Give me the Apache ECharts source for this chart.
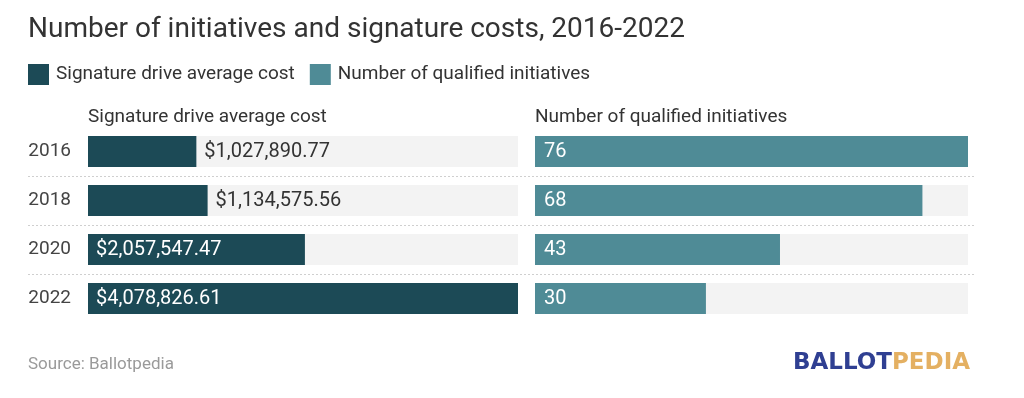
<!DOCTYPE html>
<html>
<head>
<meta charset="utf-8">
<script src="https://cdn.jsdelivr.net/npm/echarts@6/dist/echarts.min.js"></script>
<style>
  html, body { margin: 0; padding: 0; background: #fff; }
  #chart { width: 1024px; height: 398px; }
</style>
</head>
<body>
<div id="chart"></div>
<script>
const years = ['2016', '2018', '2020', '2022']
const avgCost = [1027890.77, 1134575.56, 2057547.47, 4078826.61]
const initiatives = [76, 68, 43, 30]

const DARK = '#1c4a56'
const TEAL = '#4f8b96'
const FONT = 'Roboto'

const costMax = Math.max(...avgCost)
const initMax = Math.max(...initiatives)

const fmtMoney = v => '$' + v.toLocaleString('en-US', { minimumFractionDigits: 2, maximumFractionDigits: 2 })

// short bars get their label outside, long ones inside
const costData = avgCost.map(v => {
  const inside = v / costMax > 0.4
  return {
    value: v,
    label: {
      position: inside ? 'insideLeft' : 'right',
      color: inside ? '#fff' : '#333',
      distance: 8
    }
  }
})

const chart = echarts.init(document.getElementById('chart'), null, { renderer: 'canvas' })

const option = {
  animation: false,
  textStyle: { fontFamily: FONT },
  title: [
    {
      text: 'Number of initiatives and signature costs, 2016-2022',
      left: 28, top: 16, padding: 0,
      textStyle: { fontSize: 28, fontWeight: 'normal', color: '#333', fontFamily: FONT }
    },
    {
      text: 'Signature drive average cost',
      left: 88, top: 108, padding: 0,
      textStyle: { fontSize: 19, fontWeight: 'normal', color: '#333', fontFamily: FONT }
    },
    {
      text: 'Number of qualified initiatives',
      left: 535, top: 108, padding: 0,
      textStyle: { fontSize: 19, fontWeight: 'normal', color: '#333', fontFamily: FONT }
    },
    {
      text: 'Source: Ballotpedia',
      left: 28, top: 356, padding: 0,
      textStyle: { fontSize: 17, fontWeight: 'normal', color: '#9a9a9a', fontFamily: FONT }
    },
    {
      text: '{a|BALLOT}{b|PEDIA}',
      right: 54, top: 352, padding: 0,
      textStyle: {
        rich: {
          a: { fontSize: 23, fontWeight: 'bold', color: '#2f3f92', fontFamily: 'DejaVu Sans' },
          b: { fontSize: 23, fontWeight: 'bold', color: '#e4b062', fontFamily: 'DejaVu Sans' }
        }
      }
    }
  ],
  legend: {
    left: 28, top: 64, padding: 0,
    icon: 'rect',
    itemWidth: 21, itemHeight: 21,
    itemGap: 15,
    selectedMode: false,
    textStyle: { fontSize: 19, color: '#333', fontFamily: FONT, padding: [0, 0, 0, 2] },
    data: ['Signature drive average cost', 'Number of qualified initiatives']
  },
  grid: [
    { left: 88, width: 430, top: 127, height: 196 },
    { left: 535, width: 433, top: 127, height: 196 },
    { left: 28, right: 50, top: 176, height: 98 }
  ],
  xAxis: [
    { gridIndex: 0, type: 'value', min: 0, max: costMax, show: false },
    { gridIndex: 1, type: 'value', min: 0, max: initMax, show: false },
    { gridIndex: 2, type: 'value', show: false }
  ],
  yAxis: [
    {
      gridIndex: 0, type: 'category', data: years, inverse: true,
      axisLine: { show: false }, axisTick: { show: false },
      axisLabel: { fontSize: 19, color: '#444', margin: 17, fontFamily: FONT }
    },
    {
      gridIndex: 1, type: 'category', data: years, inverse: true,
      axisLine: { show: false }, axisTick: { show: false }, axisLabel: { show: false }
    },
    {
      // row separators
      gridIndex: 2, type: 'value', min: 0, max: 2, interval: 1,
      axisLine: { show: false }, axisTick: { show: false }, axisLabel: { show: false },
      splitLine: { show: true, lineStyle: { color: '#cfcfcf', type: [2, 2], width: 1 } }
    }
  ],
  series: [
    {
      name: 'Signature drive average cost',
      type: 'bar',
      xAxisIndex: 0, yAxisIndex: 0,
      barWidth: 31,
      itemStyle: { color: DARK },
      showBackground: true,
      backgroundStyle: { color: '#f3f3f3' },
      label: {
        show: true, fontSize: 20, fontFamily: FONT,
        formatter: p => fmtMoney(p.value)
      },
      data: costData
    },
    {
      name: 'Number of qualified initiatives',
      type: 'bar',
      xAxisIndex: 1, yAxisIndex: 1,
      barWidth: 31,
      itemStyle: { color: TEAL },
      showBackground: true,
      backgroundStyle: { color: '#f3f3f3' },
      label: {
        show: true, position: 'insideLeft', distance: 9,
        fontSize: 20, color: '#fff', fontFamily: FONT
      },
      data: initiatives
    }
  ]
}

chart.setOption(option)
</script>
</body>
</html>
